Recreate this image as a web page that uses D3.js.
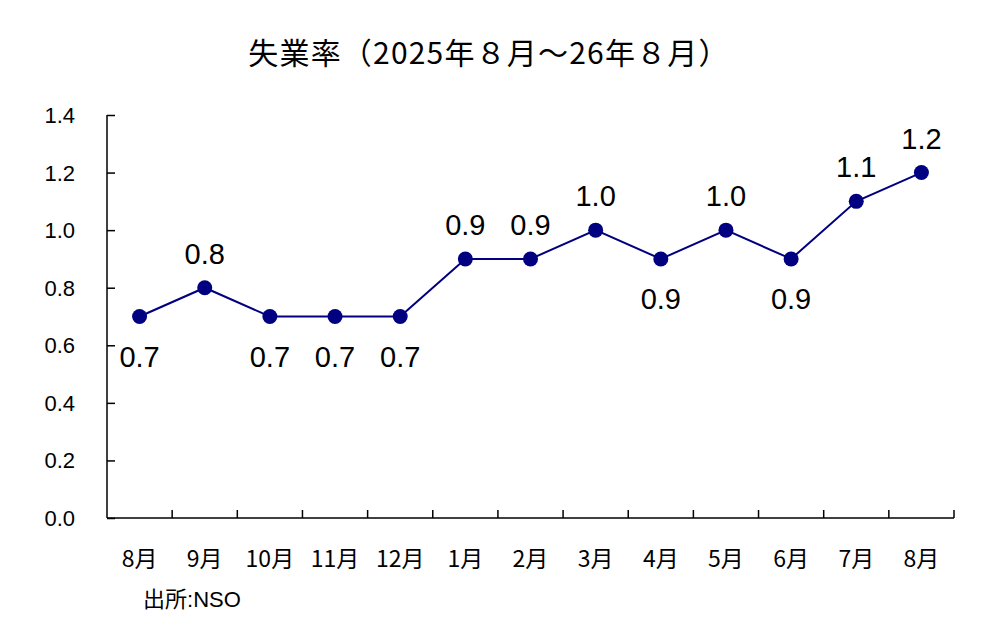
<!DOCTYPE html>
<html lang="ja">
<head>
  <meta charset="UTF-8">
  <title>失業率</title>
  <script src="https://d3js.org/d3.v7.min.js"></script>
  <style>
    body { margin: 0; background: #fff; }
    text { fill: #000; }
    .cjk { font-family: "Noto Sans CJK JP", sans-serif; }
    .num { font-family: "Liberation Sans", Arial, sans-serif; }
  </style>
</head>
<body>
  <svg width="1002" height="636"></svg>
  <script>
    // data
    const months = ["8月", "9月", "10月", "11月", "12月", "1月", "2月", "3月", "4月", "5月", "6月", "7月", "8月"];
    const rates = [0.7, 0.8, 0.7, 0.7, 0.7, 0.9, 0.9, 1.0, 0.9, 1.0, 0.9, 1.1, 1.2];
    const yTicks = [0, 0.2, 0.4, 0.6, 0.8, 1.0, 1.2, 1.4];

    const svg = d3.select("svg");

    const plotL = 107, plotR = 954, plotT = 115, plotB = 518;

    const x = d3.scaleBand()
                .domain(d3.range(months.length))
                .range([plotL, plotR]);
    const y = d3.scaleLinear()
                .domain([0, 1.4])
                .range([plotB, plotT]);

    // title
    svg.append("text")
       .attr("class", "cjk")
       .attr("x", 489)
       .attr("y", 64)
       .attr("text-anchor", "middle")
       .style("font-size", "30px")
       .style("letter-spacing", "1.2px")
       .text("失業率（2025年８月～26年８月）");

    // y axis
    const yAxis = svg.append("g")
                     .attr("transform", "translate(" + plotL + ",0)")
                     .call(d3.axisRight(y).tickValues(yTicks).tickSize(8).tickFormat(""));
    yAxis.select(".domain").attr("d", "M0," + plotT + "V" + plotB);
    yAxis.selectAll("path, line").attr("stroke", "#000").attr("stroke-width", 1.5);

    svg.selectAll(".ylab")
       .data(yTicks)
       .enter()
       .append("text")
       .attr("class", "num")
       .attr("x", 75)
       .attr("y", d => y(d) + 8)
       .attr("text-anchor", "end")
       .style("font-size", "22px")
       .text(d => d.toFixed(1));

    // x axis with ticks between categories
    const xAxis = svg.append("g")
                     .attr("transform", "translate(0," + plotB + ")");
    xAxis.append("line")
         .attr("x1", plotL).attr("x2", plotR)
         .attr("stroke", "#000").attr("stroke-width", 1.5);
    xAxis.selectAll(".xtick")
         .data(d3.range(1, months.length + 1))
         .enter()
         .append("line")
         .attr("x1", d => plotL + d * x.step())
         .attr("x2", d => plotL + d * x.step())
         .attr("y1", 0).attr("y2", -8)
         .attr("stroke", "#000").attr("stroke-width", 1.5);

    svg.selectAll(".xlab")
       .data(months)
       .enter()
       .append("text")
       .attr("class", "cjk")
       .attr("x", (d, i) => x(i) + x.bandwidth() / 2)
       .attr("y", 567)
       .attr("text-anchor", "middle")
       .style("font-size", "23px")
       .text(d => d);

    // line and markers
    const cx = i => x(i) + x.bandwidth() / 2;
    const line = d3.line()
                   .x((d, i) => cx(i))
                   .y(d => y(d));

    svg.append("path")
       .datum(rates)
       .attr("d", line)
       .attr("fill", "none")
       .attr("stroke", "#000080")
       .attr("stroke-width", 2);

    svg.selectAll(".dot")
       .data(rates)
       .enter()
       .append("circle")
       .attr("cx", (d, i) => cx(i))
       .attr("cy", d => y(d))
       .attr("r", 7.5)
       .attr("fill", "#000080");

    // value labels: these points carry their label under the marker
    const below = new Set([0, 2, 3, 4, 8, 10]);
    svg.selectAll(".vlab")
       .data(rates)
       .enter()
       .append("text")
       .attr("class", "num")
       .attr("x", (d, i) => cx(i))
       .attr("y", (d, i) => below.has(i) ? y(d) + 50 : y(d) - 24)
       .attr("text-anchor", "middle")
       .style("font-size", "29px")
       .text(d => d.toFixed(1));

    // source
    const src = svg.append("text")
                   .attr("x", 143)
                   .attr("y", 607)
                   .style("font-size", "22px");
    src.append("tspan").attr("class", "cjk").text("出所");
    src.append("tspan").attr("class", "num").text(":NSO");
  </script>
</body>
</html>
